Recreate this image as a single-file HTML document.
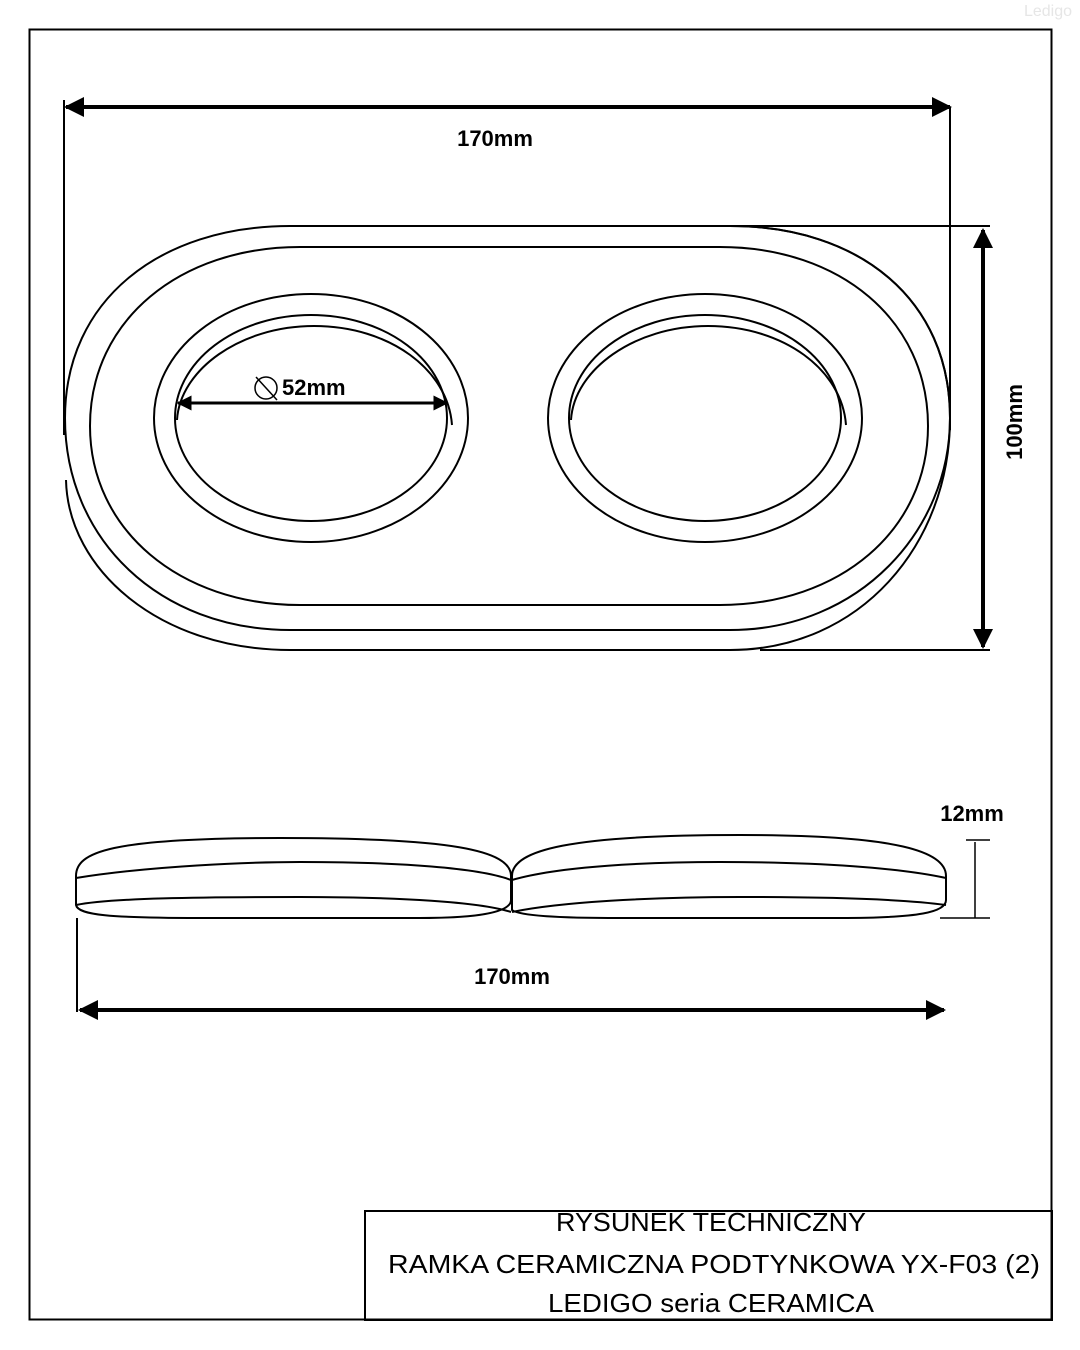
<!DOCTYPE html>
<html><head><style>body{margin:0;background:#fff}svg{display:block}</style></head><body>
<svg width="1080" height="1350" viewBox="0 0 1080 1350" xmlns="http://www.w3.org/2000/svg" font-family="Liberation Sans, sans-serif">
<defs>
<marker id="a" viewBox="0 0 10 10" refX="9" refY="5" markerWidth="5" markerHeight="5" orient="auto-start-reverse"><path d="M0,0L10,5L0,10z" fill="#000"/></marker>
</defs>
<rect x="29.5" y="29.5" width="1022" height="1290" fill="none" stroke="#000" stroke-width="2"/>
<text x="1048" y="16" font-size="16" fill="#e6e6e6" text-anchor="middle">Ledigo</text>
<g fill="none" stroke="#000" stroke-width="2">
<line x1="66" y1="107" x2="950" y2="107" stroke-width="4" marker-start="url(#a)" marker-end="url(#a)"/>
<line x1="64" y1="100" x2="64" y2="435"/>
<line x1="950" y1="107" x2="950" y2="430"/>
<line x1="983" y1="230" x2="983" y2="647" stroke-width="4" marker-start="url(#a)" marker-end="url(#a)"/>
<line x1="730" y1="226" x2="990" y2="226"/>
<line x1="760" y1="650" x2="990" y2="650"/>
<path d="M290,226 L730,226 C860,226 950,300 950,418 C950,545 860,650 730,650 L290,650 C160,650 68,570 66,480"/>
<path d="M290,226 L730,226 C860,226 950,300 950,418 C950,530 860,630 730,630 L290,630 C160,630 65,540 65,418 C65,300 160,226 290,226 Z"/>
<path d="M300,247 L720,247 C840,247 928,320 928,426 C928,530 840,605 720,605 L300,605 C180,605 90,530 90,426 C90,320 180,247 300,247 Z"/>
<ellipse cx="311" cy="418" rx="157" ry="124"/>
<ellipse cx="311" cy="418" rx="136" ry="103"/>
<path d="M177,420 C180,370 240,326 314,326 C390,326 448,370 452,425"/>
<ellipse cx="705" cy="418" rx="157" ry="124"/>
<ellipse cx="705" cy="418" rx="136" ry="103"/>
<path d="M571,420 C574,370 634,326 708,326 C784,326 842,370 846,425"/>
<line x1="178" y1="403" x2="447" y2="403" stroke-width="3" marker-start="url(#a)" marker-end="url(#a)"/>
<circle cx="266" cy="388" r="11" stroke-width="1.5"/>
<line x1="256" y1="377" x2="277" y2="400" stroke-width="1.5"/>
<path d="M76,876 C76,852 110,838 280,838 C450,838 511,850 511,876"/>
<path d="M76,876 L76,905 C78,915 110,918 200,918 L420,918 C480,918 511,912 511,900 L511,876"/>
<path d="M76,878 C150,866 250,862 300,862 C400,862 480,868 511,880"/>
<path d="M76,905 C110,898 200,897 300,897 C400,897 480,902 511,912"/>
<path d="M512,876 C512,850 570,835 740,835 C900,835 946,852 946,876"/>
<path d="M512,876 L512,910 C520,916 560,918 620,918 L840,918 C920,918 946,912 946,900 L946,876"/>
<path d="M512,880 C560,866 650,862 720,862 C820,862 900,868 946,878"/>
<path d="M512,912 C560,902 650,897 740,897 C840,897 910,900 946,905"/>
<line x1="975" y1="842" x2="975" y2="918" stroke-width="1.5"/>
<line x1="966" y1="840" x2="990" y2="840" stroke-width="1.5"/>
<line x1="940" y1="918" x2="990" y2="918" stroke-width="1.5"/>
<line x1="77" y1="918" x2="77" y2="1012"/>
<line x1="80" y1="1010" x2="944" y2="1010" stroke-width="4" marker-start="url(#a)" marker-end="url(#a)"/>
<rect x="365" y="1211" width="687" height="109"/>
</g>
<g font-weight="bold" font-size="22" fill="#000">
<text x="495" y="146" text-anchor="middle">170mm</text>
<text x="282" y="395">52mm</text>
<text x="0" y="0" transform="translate(1022,422) rotate(-90)" text-anchor="middle">100mm</text>
<text x="972" y="821" text-anchor="middle">12mm</text>
<text x="512" y="984" text-anchor="middle">170mm</text>
</g>
<g font-size="26" fill="#000">
<text x="556" y="1231" textLength="310" lengthAdjust="spacingAndGlyphs">RYSUNEK TECHNICZNY</text>
<text x="388" y="1273" textLength="652" lengthAdjust="spacingAndGlyphs">RAMKA CERAMICZNA PODTYNKOWA YX-F03 (2)</text>
<text x="548" y="1312" textLength="326" lengthAdjust="spacingAndGlyphs">LEDIGO seria CERAMICA</text>
</g>
</svg>
</body></html>
